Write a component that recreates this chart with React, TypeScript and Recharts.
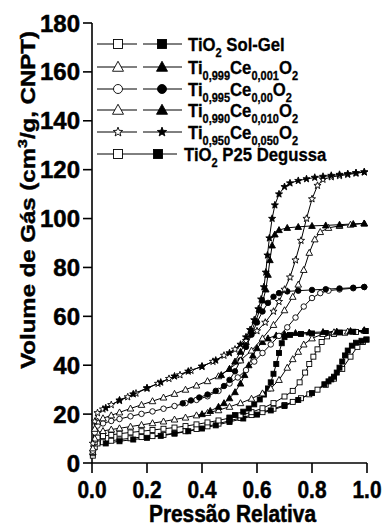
import React from 'react';
import { LineChart, Line, XAxis, YAxis, Label } from 'recharts';

const FONT = '"Liberation Sans", Arial, Helvetica, sans-serif';

// [pressão relativa, volume]; "Ads" = open symbols, "Des" = filled symbols
const p25Ads = [
  [0.003, 3], [0.01, 6.5], [0.02, 8], [0.04, 8.5], [0.07, 9.1], [0.1, 9.6], [0.14, 10.1], [0.18, 10.6],
  [0.22, 11], [0.26, 11.5], [0.3, 12.2], [0.34, 13], [0.38, 13.9], [0.42, 15], [0.46, 16.1], [0.5, 17.3],
  [0.54, 18.4], [0.58, 19.6], [0.62, 20.8], [0.66, 22.2], [0.7, 23.7], [0.73, 25], [0.76, 26.5], [0.79, 28.1],
  [0.82, 30], [0.85, 32], [0.88, 34.5], [0.91, 38.5], [0.94, 43.5], [0.965, 47.5], [0.985, 49.5], [0.998, 50.5],
];
const p25Des = [
  [0.998, 50.5], [0.98, 50], [0.96, 49.2], [0.945, 48], [0.93, 46], [0.92, 44], [0.91, 41.5], [0.9, 39],
  [0.89, 37], [0.88, 35.3], [0.87, 34.2], [0.86, 33.4], [0.845, 32.2], [0.8, 28.6], [0.75, 25.8], [0.7, 23.3],
  [0.65, 21.5], [0.6, 19.8], [0.55, 18.2], [0.5, 16.8], [0.45, 15.4], [0.4, 14.1], [0.35, 13], [0.3, 12],
  [0.25, 11.1], [0.2, 10.3], [0.15, 9.6], [0.1, 8.9], [0.05, 8],
];
const solGelAds = [
  [0.003, 4], [0.01, 8.5], [0.02, 10.5], [0.04, 11], [0.07, 11.5], [0.1, 12], [0.14, 12.5], [0.18, 13],
  [0.22, 13.5], [0.26, 14], [0.3, 14.5], [0.34, 15.1], [0.38, 15.8], [0.42, 16.6], [0.46, 17.4], [0.5, 18.4],
  [0.54, 19.5], [0.58, 20.8], [0.62, 22.4], [0.66, 24.5], [0.7, 27.2], [0.73, 29.5], [0.755, 33], [0.775, 37],
  [0.79, 40.5], [0.805, 43.5], [0.82, 46.5], [0.835, 49.5], [0.855, 51.8], [0.88, 52.8], [0.92, 53.3],
  [0.96, 53.6], [0.995, 54],
];
const solGelDes = [
  [0.995, 54], [0.95, 53.7], [0.9, 53.4], [0.85, 53.2], [0.8, 53], [0.76, 52.8], [0.72, 52.4], [0.7, 51.5],
  [0.69, 49], [0.68, 45], [0.67, 40.5], [0.66, 36.5], [0.65, 33], [0.64, 30.5], [0.625, 28], [0.61, 26],
  [0.59, 24], [0.57, 22.3], [0.55, 21], [0.52, 19.6], [0.5, 18.6],
];
const ce001Ads = [
  [0.003, 4.5], [0.01, 10], [0.02, 12.5], [0.04, 13.1], [0.07, 13.7], [0.1, 14.2], [0.14, 14.9], [0.18, 15.6],
  [0.22, 16.3], [0.26, 17], [0.3, 17.8], [0.34, 18.6], [0.38, 19.5], [0.42, 20.5], [0.46, 21.6], [0.5, 23],
  [0.54, 24.5], [0.58, 26.3], [0.62, 28.5], [0.65, 30.5], [0.68, 34], [0.71, 39], [0.73, 42.5], [0.75, 45.5],
  [0.77, 48.5], [0.8, 51], [0.84, 52.8], [0.88, 53.5], [0.93, 53.8], [0.99, 54.3],
];
const ce001Des = [
  [0.99, 54.3], [0.94, 54], [0.89, 53.8], [0.84, 53.6], [0.79, 53.4], [0.74, 53.2], [0.7, 52.8], [0.67, 52.2],
  [0.64, 51], [0.62, 49.5], [0.6, 47], [0.585, 44], [0.57, 40], [0.555, 36], [0.54, 32.5], [0.52, 29],
  [0.5, 26.5], [0.48, 24.5], [0.46, 23], [0.43, 21.3], [0.4, 20],
];
const ce005Ads = [
  [0.003, 5], [0.01, 12.5], [0.02, 15.3], [0.04, 16.2], [0.07, 17.2], [0.1, 18], [0.14, 19.1], [0.18, 20.1],
  [0.22, 21.1], [0.26, 22.2], [0.3, 23.3], [0.34, 24.5], [0.38, 25.8], [0.42, 27.3], [0.46, 29.5], [0.5, 32.5],
  [0.53, 35], [0.56, 38], [0.59, 41.5], [0.62, 45], [0.65, 48.5], [0.68, 52], [0.71, 55.5], [0.74, 59.5],
  [0.77, 64], [0.8, 67.5], [0.83, 69.5], [0.86, 70.5], [0.9, 71], [0.95, 71.5], [0.99, 72],
];
const ce005Des = [
  [0.99, 72], [0.95, 71.7], [0.9, 71.4], [0.85, 71.1], [0.8, 70.8], [0.75, 70.5], [0.71, 70.2], [0.68, 69.5],
  [0.66, 68], [0.64, 65.5], [0.62, 62], [0.6, 57.5], [0.58, 52.5], [0.56, 47.5], [0.54, 42], [0.52, 37.5],
  [0.5, 34], [0.48, 31.5], [0.45, 29.5], [0.42, 28], [0.39, 26.8], [0.36, 25.6], [0.33, 24.4],
];
const ce010Ads = [
  [0.003, 6], [0.01, 14], [0.02, 17], [0.04, 18.3], [0.07, 19.5], [0.1, 20.7], [0.14, 22.3], [0.18, 23.8],
  [0.22, 25.3], [0.26, 26.8], [0.3, 28.3], [0.34, 30], [0.38, 31.7], [0.42, 33.5], [0.46, 35.5], [0.5, 38.5],
  [0.54, 42], [0.58, 46], [0.62, 51], [0.66, 56.5], [0.7, 62.5], [0.73, 68], [0.75, 73], [0.77, 79],
  [0.79, 86], [0.81, 91.5], [0.83, 94.5], [0.86, 96.2], [0.9, 97], [0.94, 97.5], [0.99, 98],
];
const ce010Des = [
  [0.99, 98], [0.95, 97.8], [0.9, 97.5], [0.85, 97.2], [0.8, 97], [0.75, 96.6], [0.71, 96.2], [0.68, 95.3],
  [0.665, 93.5], [0.655, 89], [0.647, 83], [0.64, 77], [0.632, 71], [0.622, 66.5], [0.61, 62.5], [0.595, 58],
  [0.58, 54], [0.56, 49.5], [0.54, 45.5], [0.52, 41.5], [0.5, 38.5], [0.47, 36],
];
const ce050Ads = [
  [0.003, 8], [0.01, 17], [0.02, 20.5], [0.04, 22], [0.07, 23.8], [0.1, 25.5], [0.13, 27], [0.16, 28.5],
  [0.2, 30.5], [0.24, 32.5], [0.28, 34.5], [0.32, 36], [0.36, 37.8], [0.4, 39.5], [0.44, 41.5], [0.48, 44],
  [0.52, 46.5], [0.56, 50], [0.6, 54], [0.63, 57.5], [0.66, 62], [0.68, 66], [0.7, 71], [0.72, 76],
  [0.74, 83], [0.76, 91], [0.78, 100], [0.8, 108], [0.82, 113.5], [0.84, 116], [0.87, 117], [0.9, 117.5],
  [0.93, 118], [0.96, 118.5], [0.99, 119],
];
const ce050Des = [
  [0.99, 119], [0.96, 118.7], [0.93, 118.3], [0.9, 118], [0.87, 117.6], [0.84, 117.2], [0.81, 116.8],
  [0.78, 116.2], [0.75, 115.5], [0.72, 114.5], [0.7, 113], [0.68, 110], [0.665, 105.5], [0.655, 100],
  [0.645, 92], [0.638, 85], [0.632, 78], [0.625, 72], [0.615, 67], [0.605, 63], [0.59, 58.5], [0.575, 54.5],
  [0.56, 51.5], [0.54, 48.5], [0.5, 45], [0.45, 42], [0.4, 39.5], [0.35, 37.5], [0.3, 35.5], [0.25, 33],
  [0.2, 30.7], [0.15, 28.2], [0.1, 25.7], [0.05, 22.5],
];

const xTicks = [0, 0.2, 0.4, 0.6, 0.8, 1.0];
const yTicks = [0, 20, 40, 60, 80, 100, 120, 140, 160, 180];
const yMinorTicks = [10, 30, 50, 70, 90, 110, 130, 150, 170];

type Shape = 'square' | 'triangle' | 'circle' | 'star';

const toRows = (pairs: number[][]) => pairs.map(([p, v]) => ({ p, v }));

// drawing order: filled (desorption) symbols end up on top
const series: { id: string; data: number[][]; shape: Shape; filled: boolean }[] = [
  { id: 'p25-ads', data: p25Ads, shape: 'square', filled: false },
  { id: 'p25-des', data: p25Des, shape: 'square', filled: true },
  { id: 'sg-ads', data: solGelAds, shape: 'square', filled: false },
  { id: 'sg-des', data: solGelDes, shape: 'square', filled: true },
  { id: 'ce001-ads', data: ce001Ads, shape: 'triangle', filled: false },
  { id: 'ce001-des', data: ce001Des, shape: 'triangle', filled: true },
  { id: 'ce005-ads', data: ce005Ads, shape: 'circle', filled: false },
  { id: 'ce005-des', data: ce005Des, shape: 'circle', filled: true },
  { id: 'ce010-ads', data: ce010Ads, shape: 'triangle', filled: false },
  { id: 'ce010-des', data: ce010Des, shape: 'triangle', filled: true },
  { id: 'ce050-ads', data: ce050Ads, shape: 'star', filled: false },
  { id: 'ce050-des', data: ce050Des, shape: 'star', filled: true },
];

// legend text: [text, isSubscript]
const legendRows: { parts: [string, boolean][]; shape: Shape; joined: boolean }[] = [
  { parts: [['TiO', false], ['2', true], [' Sol-Gel', false]], shape: 'square', joined: false },
  { parts: [['Ti', false], ['0,999', true], ['Ce', false], ['0,001', true], ['O', false], ['2', true]], shape: 'triangle', joined: false },
  { parts: [['Ti', false], ['0,995', true], ['Ce', false], ['0,00', true], ['O', false], ['2', true]], shape: 'circle', joined: false },
  { parts: [['Ti', false], ['0,990', true], ['Ce', false], ['0,010', true], ['O', false], ['2', true]], shape: 'triangle', joined: false },
  { parts: [['Ti', false], ['0,950', true], ['Ce', false], ['0,050', true], ['O', false], ['2', true]], shape: 'star', joined: false },
  { parts: [['TiO', false], ['2', true], [' P25 Degussa', false]], shape: 'square', joined: true },
];

const plotSize: Record<Shape, number> = { square: 5, triangle: 6, circle: 5.5, star: 6.5 };
const legendSize: Record<Shape, number> = { square: 9, triangle: 10, circle: 9, star: 8.5 };

const Marker = ({ cx, cy, shape, filled, size }: { cx: number; cy: number; shape: Shape; filled: boolean; size: number }) => {
  const fill = filled ? '#000' : '#fff';
  const r = size / 2;
  const common = { fill, stroke: '#000', strokeWidth: 0.9 };
  if (shape === 'square') return <rect x={cx - r} y={cy - r} width={size} height={size} {...common} />;
  if (shape === 'circle') return <circle cx={cx} cy={cy} r={r} {...common} />;
  if (shape === 'triangle') {
    return <polygon points={`${cx},${cy - r * 1.15} ${cx + r * 1.1},${cy + r * 0.85} ${cx - r * 1.1},${cy + r * 0.85}`} {...common} />;
  }
  const pts: string[] = [];
  for (let i = 0; i < 10; i++) {
    const a = -Math.PI / 2 + (i * Math.PI) / 5;
    const rr = i % 2 === 0 ? r * 1.15 : r * 0.48;
    pts.push(`${cx + rr * Math.cos(a)},${cy + rr * Math.sin(a)}`);
  }
  return <polygon points={pts.join(' ')} {...common} />;
};

// heavier bold, like the original figure
const textStyle = { fontFamily: FONT, fontWeight: 'bold' as const, fill: '#000', stroke: '#000', strokeWidth: 0.5 };

const XTick = (props: any) => {
  const { x, y, payload } = props;
  return (
    <g transform={`translate(${x},${y + 23}) scale(0.87,1)`}>
      <text textAnchor="middle" fontSize={24} {...textStyle}>
        {Number(payload.value).toFixed(1)}
      </text>
    </g>
  );
};

const YTick = (props: any) => {
  const { x, y, payload } = props;
  return (
    <text x={x - 1} y={y + 8.5} textAnchor="end" fontSize={24} {...textStyle}>
      {payload.value}
    </text>
  );
};

const XTitle = (props: any) => {
  const vb = props.viewBox;
  return (
    <g transform={`translate(${vb.x + vb.width / 2 + 3},${vb.y + 59}) scale(0.87,1)`}>
      <text textAnchor="middle" fontSize={24} {...textStyle}>
        Pressão Relativa
      </text>
    </g>
  );
};

const YTitle = () => (
  <g transform="translate(35,200) scale(0.85,1) rotate(-90)">
    <text textAnchor="middle" fontSize={24} {...textStyle}>
      Volume de Gás (cm<tspan fontSize={16} dy={-9}>3</tspan>
      <tspan dy={9}>/g, CNPT)</tspan>
    </text>
  </g>
);

const LegendText = ({ x, y, parts }: { x: number; y: number; parts: [string, boolean][] }) => {
  let shift = 0;
  return (
    <g transform={`translate(${x},${y}) scale(0.88,1)`}>
      <text fontSize={19} {...textStyle} strokeWidth={0.3}>
        {parts.map(([t, sub], i) => {
          const target = sub ? 5.5 : 0;
          const dy = target - shift;
          shift = target;
          return (
            <tspan key={i} dy={dy} fontSize={sub ? 12.5 : 19}>
              {t}
            </tspan>
          );
        })}
      </text>
    </g>
  );
};

const rowY = [44, 67, 89, 110, 132, 154];

const LegendBox = () => (
  <svg width={386} height={527} style={{ position: 'absolute', left: 0, top: 0, pointerEvents: 'none' }}>
    {legendRows.map((row, i) => {
      const y = rowY[i];
      const s = legendSize[row.shape];
      return (
        <g key={i}>
          {row.joined ? (
            <line x1={97} x2={177} y1={y} y2={y} stroke="#000" strokeWidth={1} />
          ) : (
            <>
              <line x1={97} x2={137} y1={y} y2={y} stroke="#000" strokeWidth={1} />
              <line x1={143} x2={182} y1={y} y2={y} stroke="#000" strokeWidth={1} />
            </>
          )}
          <Marker cx={118} cy={y} shape={row.shape} filled={false} size={s} />
          <Marker cx={row.joined ? 158 : 162} cy={y} shape={row.shape} filled size={s} />
          <LegendText x={row.joined ? 184 : 188} y={y + 7} parts={row.parts} />
        </g>
      );
    })}
  </svg>
);

export default function App() {
  return (
    <div style={{ position: 'absolute', left: 0, top: 0, width: 386, height: 527, background: '#fff' }}>
      <LineChart width={386} height={527} margin={{ top: 23, right: 19, bottom: 0, left: 0 }}>
        <XAxis
          dataKey="p"
          type="number"
          domain={[0, 1]}
          ticks={xTicks}
          height={64}
          tickSize={10}
          axisLine={{ stroke: '#000', strokeWidth: 1.6 }}
          tickLine={{ stroke: '#000', strokeWidth: 1.6 }}
          tick={<XTick />}
          interval={0}
        >
          <Label content={<XTitle />} />
        </XAxis>
        <XAxis
          xAxisId="top"
          orientation="top"
          type="number"
          domain={[0, 1]}
          ticks={xTicks}
          height={0}
          mirror
          tickSize={9}
          axisLine={{ stroke: '#000', strokeWidth: 1.6 }}
          tickLine={{ stroke: '#000', strokeWidth: 1.6 }}
          tick={false}
        />
        <YAxis
          type="number"
          domain={[0, 180]}
          ticks={yTicks}
          width={92}
          tickSize={9}
          axisLine={{ stroke: '#000', strokeWidth: 1.6 }}
          tickLine={{ stroke: '#000', strokeWidth: 1.6 }}
          tick={<YTick />}
          interval={0}
        >
          <Label content={<YTitle />} />
        </YAxis>
        <YAxis
          yAxisId="minor"
          type="number"
          domain={[0, 180]}
          ticks={yMinorTicks}
          width={0}
          mirror
          tickSize={4}
          axisLine={false}
          tickLine={{ stroke: '#000', strokeWidth: 1 }}
          tick={false}
          interval={0}
        />
        <YAxis
          yAxisId="right"
          orientation="right"
          type="number"
          domain={[0, 180]}
          ticks={yTicks}
          width={0}
          mirror
          tickSize={8}
          axisLine={{ stroke: '#000', strokeWidth: 1.6 }}
          tickLine={{ stroke: '#000', strokeWidth: 1.6 }}
          tick={false}
          interval={0}
        />
        {series.map((s) => (
          <Line
            key={s.id}
            data={toRows(s.data)}
            dataKey="v"
            type="linear"
            stroke="#000"
            strokeWidth={1}
            isAnimationActive={false}
            dot={(p: any) =>
              p.cx == null ? (
                <g key={`${s.id}-${p.index}`} />
              ) : (
                <Marker key={`${s.id}-${p.index}`} cx={p.cx} cy={p.cy} shape={s.shape} filled={s.filled} size={plotSize[s.shape]} />
              )
            }
            activeDot={false}
          />
        ))}
      </LineChart>
      <LegendBox />
    </div>
  );
}
